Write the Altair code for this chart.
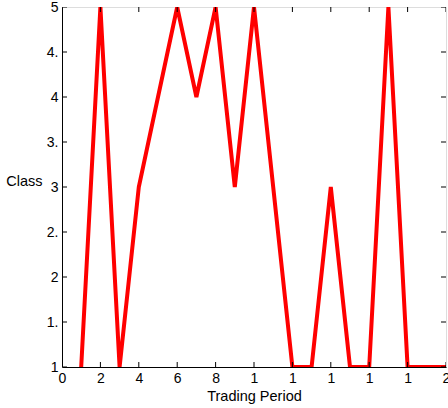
import altair as alt
import pandas as pd

# Class assigned in each trading period
periods = list(range(1, 21))
classes = [1, 5, 1, 3, 4, 5, 4, 5, 3, 5, 3, 1, 1, 3, 1, 1, 5, 1, 1, 1]

# Axis tick positions
x_ticks = [0, 2, 4, 6, 8, 10, 12, 14, 16, 18, 20]
y_ticks = [1, 1.5, 2, 2.5, 3, 3.5, 4, 4.5, 5]

df = pd.DataFrame({"period": periods, "cls": classes})
xt = pd.DataFrame({"v": x_ticks})
yt = pd.DataFrame({"v": y_ticks})

FONT = "Liberation Sans"
xs = alt.Scale(domain=[0, 20], nice=False, zero=False)
ys = alt.Scale(domain=[1, 5], nice=False, zero=False)

x_axis = alt.Axis(
    values=x_ticks, ticks=False, grid=False, labelExpr="substring(datum.label, 0, 1)",
    labelOverlap=False, labelFlush=False, labelBound=False,
    labelFont=FONT, labelFontSize=14, labelColor="black", labelPadding=4,
    domainColor="black", title="Trading Period", titleFont=FONT, titleFontSize=14.5,
    titleFontWeight="normal", titleColor="black", titlePadding=4,
)
y_axis = alt.Axis(
    values=y_ticks, ticks=False, grid=False, format=".1~f",
    labelExpr="substring(datum.label, 0, 2)",
    labelOverlap=False, labelFlush=False, labelBound=False,
    labelFont=FONT, labelFontSize=14, labelColor="black", labelPadding=4,
    domainColor="black", title="Class", titleFont=FONT, titleFontSize=14.5,
    titleFontWeight="normal", titleColor="black", titleAngle=0,
    titleAlign="right", titleBaseline="middle", titleX=-20, titleY=174,
)

line = alt.Chart(df).mark_line(
    color="#ff0000", strokeWidth=4, clip=True, strokeJoin="miter"
).encode(
    x=alt.X("period:Q", scale=xs, axis=x_axis),
    y=alt.Y("cls:Q", scale=ys, axis=y_axis),
)

# Inward-pointing tick marks on all four sides of the box
tick_style = dict(color="black", thickness=1, size=10, clip=True, opacity=1)
bottom = alt.Chart(xt).mark_tick(orient="vertical", **tick_style).encode(
    x=alt.X("v:Q", scale=xs, axis=x_axis),
    y=alt.Y(datum=1, type="quantitative", scale=ys, axis=y_axis))
top = alt.Chart(xt).mark_tick(orient="vertical", **tick_style).encode(
    x=alt.X("v:Q", scale=xs, axis=x_axis),
    y=alt.Y(datum=5, type="quantitative", scale=ys, axis=y_axis))
left = alt.Chart(yt).mark_tick(orient="horizontal", **tick_style).encode(
    y=alt.Y("v:Q", scale=ys, axis=y_axis),
    x=alt.X(datum=0, type="quantitative", scale=xs, axis=x_axis))
right = alt.Chart(yt).mark_tick(orient="horizontal", **tick_style).encode(
    y=alt.Y("v:Q", scale=ys, axis=y_axis),
    x=alt.X(datum=20, type="quantitative", scale=xs, axis=x_axis))

chart = alt.layer(line, bottom, top, left, right).properties(
    width=384, height=360,
    autosize=alt.AutoSizeParams(type="none"),
    padding={"left": 62, "top": 7, "right": 2, "bottom": 41},
).configure_view(stroke="black", strokeWidth=1).configure(background="white")

chart.save("out.html", embed_options={"renderer": "svg", "actions": False})
